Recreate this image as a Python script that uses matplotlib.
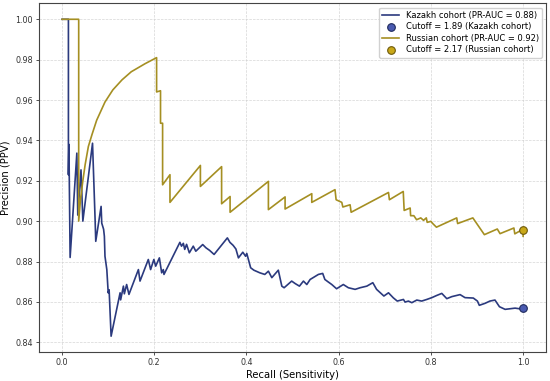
import matplotlib
matplotlib.use("Agg")
import matplotlib.pyplot as plt

# Kazakh cohort PR curve
kz_recall = [0.0, 0.0137, 0.0137, 0.0148, 0.0174, 0.032, 0.034, 0.041, 0.045, 0.066,
             0.0716, 0.073, 0.0846, 0.086, 0.090, 0.0917, 0.093, 0.097, 0.100, 0.102,
             0.1063, 0.1258, 0.127, 0.133, 0.135, 0.140, 0.145, 0.1655, 0.169, 0.187,
             0.192, 0.199, 0.203, 0.211, 0.216, 0.2195, 0.221, 0.2555, 0.259, 0.263,
             0.266, 0.270, 0.276, 0.2845, 0.290, 0.305, 0.312, 0.320, 0.3297, 0.3585,
             0.364, 0.371, 0.377, 0.3825, 0.392, 0.398, 0.4006, 0.409, 0.416, 0.4289,
             0.4397, 0.4475, 0.4549, 0.469, 0.4766, 0.4816, 0.498, 0.5054, 0.5148, 0.5235,
             0.5308, 0.538, 0.556, 0.5653, 0.570, 0.5777, 0.585, 0.5954, 0.610, 0.621,
             0.6356, 0.6464, 0.661, 0.674, 0.6822, 0.698, 0.708, 0.7185, 0.727, 0.7404,
             0.744, 0.7512, 0.7586, 0.7694, 0.780, 0.791, 0.802, 0.8128, 0.8236, 0.8345,
             0.8453, 0.8633, 0.874, 0.892, 0.9009, 0.905, 0.9176, 0.928, 0.939, 0.9487,
             0.961, 0.9826, 0.992, 1.0]
kz_precision = [1.0, 1.0, 0.923, 0.938, 0.882, 0.9337, 0.903, 0.9254, 0.900, 0.9386,
                0.9007, 0.890, 0.9073, 0.899, 0.896, 0.8925, 0.8826, 0.876, 0.8645, 0.866,
                0.843, 0.8645, 0.861, 0.8678, 0.864, 0.8686, 0.8637, 0.876, 0.8703, 0.881,
                0.876, 0.881, 0.8777, 0.8818, 0.8744, 0.876, 0.8736, 0.8895, 0.8876, 0.889,
                0.886, 0.8885, 0.8843, 0.8876, 0.8851, 0.8884, 0.8868, 0.8855, 0.8835, 0.8917,
                0.8895, 0.888, 0.8862, 0.8818, 0.8846, 0.8826, 0.884, 0.8769, 0.8757, 0.8744,
                0.8736, 0.8752, 0.872, 0.8757, 0.8678, 0.867, 0.8703, 0.8691, 0.8678, 0.8703,
                0.8686, 0.8711, 0.8736, 0.8741, 0.8711, 0.8698, 0.8686, 0.8665, 0.8686, 0.867,
                0.8662, 0.867, 0.8678, 0.8695, 0.8662, 0.8629, 0.8645, 0.862, 0.8604, 0.8612,
                0.8599, 0.8604, 0.8596, 0.8609, 0.8604, 0.8612, 0.8621, 0.8632, 0.8642, 0.8616,
                0.8626, 0.8636, 0.8621, 0.8619, 0.8604, 0.8583, 0.8593, 0.8604, 0.8609, 0.8576,
                0.8563, 0.8569, 0.8566, 0.8571]

# Russian cohort PR curve
ru_recall = [0.0, 0.036, 0.036, 0.040, 0.045, 0.050, 0.057, 0.065, 0.075, 0.093,
             0.110, 0.130, 0.150, 0.180, 0.205, 0.205, 0.2135, 0.2135, 0.218, 0.218,
             0.234, 0.234, 0.300, 0.300, 0.346, 0.346, 0.3644, 0.3644, 0.4475, 0.4475,
             0.4837, 0.4837, 0.5416, 0.5416, 0.592, 0.5944, 0.6067, 0.609, 0.6247, 0.627,
             0.708, 0.710, 0.740, 0.742, 0.755, 0.756, 0.763, 0.769, 0.778, 0.784,
             0.790, 0.792, 0.800, 0.804, 0.812, 0.856, 0.858, 0.891, 0.916, 0.944,
             0.950, 0.980, 0.982, 0.992, 1.0, 1.0]
ru_precision = [1.0, 1.0, 0.900, 0.911, 0.920, 0.928, 0.937, 0.943, 0.950, 0.959,
                0.965, 0.970, 0.974, 0.978, 0.981, 0.964, 0.9646, 0.9485, 0.9485, 0.918,
                0.923, 0.9093, 0.9276, 0.9172, 0.927, 0.9086, 0.9122, 0.9044, 0.9197, 0.9057,
                0.912, 0.906, 0.9136, 0.9093, 0.9156, 0.9106, 0.9093, 0.907, 0.9081, 0.9044,
                0.9142, 0.9106, 0.9147, 0.9053, 0.9065, 0.9027, 0.9027, 0.9007, 0.9016, 0.9004,
                0.9016, 0.8994, 0.8999, 0.8988, 0.897, 0.9016, 0.8988, 0.9016, 0.8933, 0.8961,
                0.8938, 0.8966, 0.8937, 0.895, 0.8955, 0.8925]

# optimal cutoff points
kz_cut = (1.0, 0.8571)
ru_cut = (1.0, 0.8955)

fig, ax = plt.subplots(figsize=(5.5, 3.81), dpi=100)
fig.subplots_adjust(left=0.071, right=0.993, top=0.991, bottom=0.076)

ax.plot(kz_recall, kz_precision, color="#2b3a7e", lw=1.2,
        label="Kazakh cohort (PR-AUC = 0.88)")
ax.plot([kz_cut[0]], [kz_cut[1]], "o", ms=5.5, mfc="#4a5ab0", mec="#1f2a5c", mew=0.8,
        label="Cutoff = 1.89 (Kazakh cohort)", zorder=3)
ax.plot(ru_recall, ru_precision, color="#a58f22", lw=1.2,
        label="Russian cohort (PR-AUC = 0.92)")
ax.plot([ru_cut[0]], [ru_cut[1]], "o", ms=5.5, mfc="#c9a818", mec="#6e5a0c", mew=0.8,
        label="Cutoff = 2.17 (Russian cohort)", zorder=3)

ax.set_xlabel("Recall (Sensitivity)", fontsize=7.2, labelpad=2)
ax.set_ylabel("Precision (PPV)", fontsize=7.2, labelpad=3)
ax.tick_params(labelsize=5.8, length=2.5, width=0.6, pad=2, colors="#333333")
ax.set_xticks([0.0, 0.2, 0.4, 0.6, 0.8, 1.0])
ax.set_yticks([0.84, 0.86, 0.88, 0.90, 0.92, 0.94, 0.96, 0.98, 1.00])
ax.grid(True, ls="--", lw=0.5, color="#cccccc", alpha=0.8)
for s in ax.spines.values():
    s.set_color("#444444")
    s.set_linewidth(0.8)

ax.legend(loc="upper right", fontsize=6, framealpha=0.9, borderpad=0.4,
          handlelength=2.0, labelspacing=0.3, edgecolor="#cccccc")

plt.savefig("out.png", dpi=100)
